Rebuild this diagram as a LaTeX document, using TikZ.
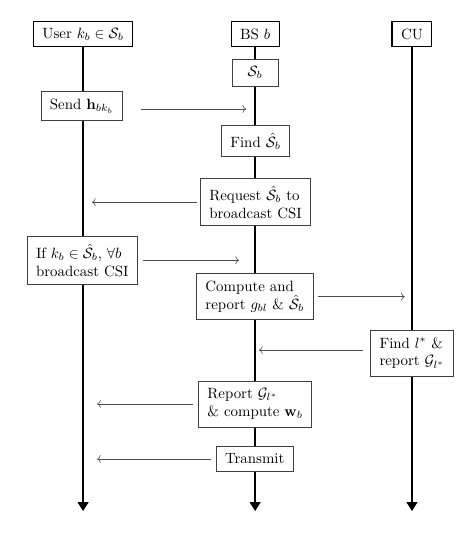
\documentclass[tikz,border=0pt]{standalone}
\usepackage{amsmath}
\usepackage{amssymb}
\usetikzlibrary{positioning,arrows.meta}

\begin{document}
\begin{tikzpicture}[thick,
    head/.style={draw, fill=white, inner xsep=6pt, minimum height=0.59cm},
    task/.style={draw=black!75, thin, fill=white, align=left, inner xsep=6pt, inner ysep=5pt},
    life/.style={line width=1.8pt, -{Triangle[width=7pt,length=6pt]}},
    msg/.style={draw=black!70, thin, ->}]%
    \useasboundingbox (0,0) rectangle (11.12,-12.67);
    % headers
    \node (user) [head] at (1.96,-0.81) {User $k_b \in \mathcal{S}_b$};
    \node (bs) [head] at (6.02,-0.81) {BS $b$};
    \node (cu) [head] at (9.72,-0.81) {CU};
    \coordinate (userend) at (1.96,-12.06);
    \coordinate (bsend) at (6.02,-12.06);
    \coordinate (cuend) at (9.72,-12.06);
    \draw[life] (user) -- (userend);
    \draw[life] (bs) -- (bsend);
    \draw[life] (cu) -- (cuend);
    % steps
    \node (set) [task, minimum width=1.08cm, align=center] at (6.02,-1.71) {$\mathcal{S}_b$};
    \node (send) [task] at (1.93,-2.50) {Send $\mathbf{h}_{bk_b}$};
    \node (find) [task] at (6.03,-3.33) {Find $\hat{\mathcal{S}}_b$};
    \node (req) [task] at (6.03,-4.77) {Request $\hat{\mathcal{S}}_b$ to\\broadcast CSI};
    \node (bcast) [task] at (1.94,-6.14) {If $k_b \in \hat{\mathcal{S}}_b$, $\forall b$\\broadcast CSI};
    \node (comp) [task] at (6.01,-7.00) {Compute and\\report $g_{bl}$ \& $\hat{\mathcal{S}}_b$};
    \node (findl) [task] at (9.72,-8.33) {Find $l^*$ \&\\report $\mathcal{G}_{l^*}$};
    \node (rep) [task] at (6.02,-9.53) {Report $\mathcal{G}_{l^*}$\\\& compute $\mathbf{w}_b$};
    \node (tx) [task] at (6.01,-10.83) {Transmit};
    % messages
    \draw[msg, shorten <=0.42cm, shorten >=0.21cm] ([yshift=-0.07cm]send.east) -- ([yshift=-0.07cm]send.east -| bs);
    \draw[msg, shorten <=0.07cm, shorten >=0.21cm] (req.west) -- (req.west -| user);
    \draw[msg, shorten <=0.12cm, shorten >=0.38cm] (bcast.east) -- (bcast.east -| bs);
    \draw[msg, shorten <=0.12cm, shorten >=0.17cm] (comp.east) -- (comp.east -| cu);
    \draw[msg, shorten <=0.17cm, shorten >=0.09cm] ([yshift=0.07cm]findl.west) -- ([yshift=0.07cm]findl.west -| bs);
    \draw[msg, shorten <=0.12cm, shorten >=0.33cm] (rep.west) -- (rep.west -| user);
    \draw[msg, shorten <=0.12cm, shorten >=0.33cm] (tx.west) -- (tx.west -| user);
\end{tikzpicture}
\end{document}
